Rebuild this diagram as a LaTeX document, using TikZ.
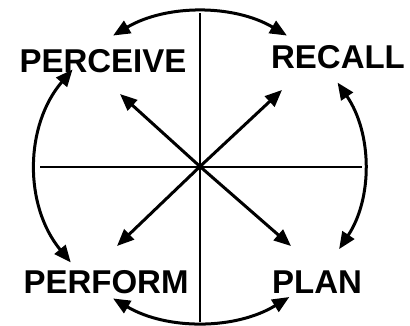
\documentclass[tikz,border=0pt]{standalone}
\usepackage{fontspec}
\setmainfont{Liberation Sans}
\usetikzlibrary{arrows.meta,calc}
\tikzset{
  lbl/.style={anchor=base,inner sep=0pt,font=\fontsize{33}{38}\selectfont\bfseries},
  axis/.style={line width=2pt},
  tip/.tip={Triangle[length=17pt,width=14pt]},
  arr/.style={line width=3pt,-tip},
  darr/.style={line width=3pt,tip-tip},
}
\begin{document}
\begin{tikzpicture}[x=1pt,y=1pt]
\useasboundingbox (0,0) rectangle (410,325);
\coordinate (O) at (200,158.5);
\coordinate (E) at (200,158);
% axes
\coordinate (vt) at (200,312);
\coordinate (vb) at (200,3);
\coordinate (hl) at (40,158.5);
\coordinate (hr) at (362,158.5);
\draw[axis] (vt) -- (vb);
\draw[axis] (hl) -- (hr);
% labels
\node[lbl] (perceive) at (103,253) {PERCEIVE};
\node[lbl] (recall) at (338,257) {RECALL};
\node[lbl] (perform) at (106,32) {PERFORM};
\node[lbl] (plan) at (317,32) {PLAN};
% diagonal arrows
\coordinate (ul) at (120,231);
\coordinate (ur) at (282,235);
\coordinate (ll) at (117,79);
\coordinate (lr) at (291,79);
\draw[arr] (O) -- (ul);
\draw[arr] (O) -- (ur);
\draw[arr] (O) -- (ll);
\draw[arr] (O) -- (lr);
% elliptic arcs
\coordinate (a1) at ($(E)+(58:164pt and 155pt)$);
\coordinate (a2) at ($(E)+(141:164pt and 155pt)$);
\coordinate (a3) at ($(E)+(238:164pt and 155pt)$);
\coordinate (a4) at ($(E)+(-32:164pt and 155pt)$);
\draw[darr] (a1) arc[start angle=58,end angle=122,x radius=164pt,y radius=155pt];
\draw[darr] (a2) arc[start angle=141,end angle=218,x radius=164pt,y radius=155pt];
\draw[darr] (a3) arc[start angle=238,end angle=303,x radius=164pt,y radius=155pt];
\draw[darr] (a4) arc[start angle=-32,end angle=33,x radius=164pt,y radius=155pt];
\end{tikzpicture}
\end{document}
